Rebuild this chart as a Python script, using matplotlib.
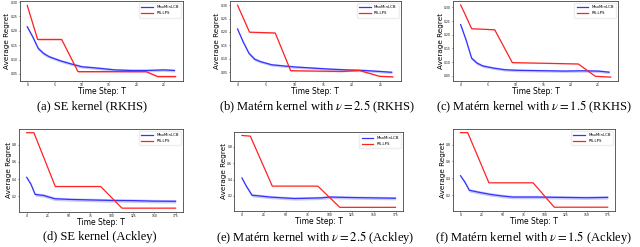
import matplotlib
matplotlib.use("Agg")
import matplotlib.pyplot as plt
import numpy as np

plt.rcParams['mathtext.fontset'] = 'stix'

legend_names = ['MaxMinLCB', 'RS-LPS']
captions = ['(a) SE kernel (RKHS)',
            r'(b) Matérn kernel with $\nu = 2.5$ (RKHS)',
            r'(c) Matérn kernel with $\nu = 1.5$ (RKHS)',
            '(d) SE kernel (Ackley)',
            r'(e) Matérn kernel with $\nu = 2.5$ (Ackley)',
            r'(f) Matérn kernel with $\nu = 1.5$ (Ackley)']

# RKHS panels (top row)
t_blue_top = [0, 1, 2, 3, 4, 6, 8, 10, 13, 16, 19, 22, 25, 27]
blue_a = [0.214, 0.179, 0.139, 0.121, 0.110, 0.096, 0.085, 0.075, 0.070, 0.064, 0.062, 0.062, 0.064, 0.062]
blue_b = [0.211, 0.162, 0.120, 0.098, 0.089, 0.077, 0.073, 0.069, 0.065, 0.061, 0.058, 0.056, 0.052, 0.049]
blue_c = [0.237, 0.180, 0.114, 0.096, 0.086, 0.078, 0.072, 0.070, 0.069, 0.068, 0.067, 0.068, 0.067, 0.063]
sd_top = [0.004, 0.006, 0.006, 0.006, 0.005, 0.005, 0.005, 0.005, 0.005, 0.005, 0.005, 0.005, 0.005, 0.005]

t_red_a = [0, 1.9, 6.3, 9.3, 21.8, 23.9, 27.2]
red_a = [0.288, 0.170, 0.170, 0.058, 0.058, 0.041, 0.041]
t_red_b = [0, 2.1, 6.6, 9.3, 18.3, 21.3, 24.9, 27.2]
red_b = [0.300, 0.199, 0.196, 0.055, 0.052, 0.056, 0.034, 0.032]
t_red_c = [0, 0.5, 2.0, 6.2, 9.4, 21.4, 24.5, 27.3]
red_c = [0.309, 0.288, 0.222, 0.218, 0.098, 0.093, 0.048, 0.045]

# Ackley panels (bottom row)
t_blue_d = [0, 5, 10, 20, 33, 50, 75, 100, 125, 150, 175]
blue_d = [0.42, 0.34, 0.22, 0.208, 0.17, 0.162, 0.156, 0.150, 0.148, 0.142, 0.140]
t_blue_e = [0, 5, 11.5, 20, 33, 60, 90, 100, 125, 150, 175]
blue_e = [0.42, 0.32, 0.208, 0.200, 0.185, 0.168, 0.176, 0.186, 0.180, 0.176, 0.172]
t_blue_f = [0, 5, 10.5, 20, 35, 50, 62, 90, 120, 150, 175]
blue_f = [0.432, 0.36, 0.26, 0.24, 0.212, 0.192, 0.180, 0.180, 0.176, 0.172, 0.176]
sd_bot = [0.01, 0.015, 0.02, 0.02, 0.02, 0.02, 0.02, 0.02, 0.02, 0.02, 0.02]

t_red_d = [0, 8.5, 33.7, 87, 112, 175]
red_d = [0.94, 0.94, 0.312, 0.312, 0.06, 0.06]
t_red_e = [0, 9.6, 34.6, 86.5, 111.5, 175]
red_e = [0.94, 0.932, 0.32, 0.32, 0.06, 0.06]
t_red_f = [0, 8.6, 33.8, 86.3, 111.5, 175]
red_f = [0.94, 0.94, 0.348, 0.348, 0.06, 0.06]

panels = [
    (t_blue_top, blue_a, sd_top, t_red_a, red_a, 0.003),
    (t_blue_top, blue_b, sd_top, t_red_b, red_b, 0.002),
    (t_blue_top, blue_c, sd_top, t_red_c, red_c, 0.001),
    (t_blue_d, blue_d, sd_bot, t_red_d, red_d, 0.0),
    (t_blue_e, blue_e, sd_bot, t_red_e, red_e, 0.0),
    (t_blue_f, blue_f, sd_bot, t_red_f, red_f, 0.0),
]

# axes boxes in figure fractions [left, bottom, width, height]
boxes = [[0.031, 0.672, 0.255, 0.324],
         [0.359, 0.672, 0.267, 0.324],
         [0.708, 0.672, 0.258, 0.324],
         [0.030, 0.142, 0.256, 0.336],
         [0.366, 0.146, 0.264, 0.320],
         [0.708, 0.146, 0.253, 0.332]]
caption_x = [0.144, 0.495, 0.834, 0.156, 0.492, 0.833]

fig = plt.figure(figsize=(6.4, 2.47), dpi=100)

for i, (tb, b, sd, tr, r, rsd) in enumerate(panels):
    ax = fig.add_axes(boxes[i])
    tb = np.array(tb)
    b = np.array(b)
    sd = np.array(sd)
    ax.plot(tb, b, color='#3333ff', lw=0.9, label=legend_names[0])
    ax.fill_between(tb, b - sd, b + sd, color='#6666ff', alpha=0.35, lw=0)
    ax.plot(tr, r, color='#ff2222', lw=0.9, label=legend_names[1])
    if rsd > 0:
        r = np.array(r)
        ax.fill_between(tr, r - rsd, r + rsd, color='#ff6666', alpha=0.35, lw=0)
    if i < 3:
        ax.set_xticks([0, 5, 10, 15, 20, 25])
        ax.set_yticks([0.05, 0.10, 0.15, 0.20, 0.25, 0.30])
    else:
        ax.set_xticks([0, 25, 50, 75, 100, 125, 150, 175])
        ax.set_yticks([0.2, 0.4, 0.6, 0.8])
    ax.tick_params(labelsize=2.2, length=1, width=0.4, pad=0.5)
    for s in ax.spines.values():
        s.set_linewidth(0.6)
        s.set_color('#444444')
    ax.set_xlabel('Time Step: T', fontsize=5.5, labelpad=0.2)
    ax.set_ylabel('Average Regret', fontsize=5.2, labelpad=0.3)
    ax.legend(loc='upper right', fontsize=2.8, handlelength=3, frameon=True,
              framealpha=1, edgecolor='#eeeeee', borderpad=0.6)
    fig.text(caption_x[i], 0.568 if i < 3 else 0.04, captions[i],
             ha='center', va='center', fontsize=9, family='Liberation Serif')

fig.savefig('out.png', dpi=100)
